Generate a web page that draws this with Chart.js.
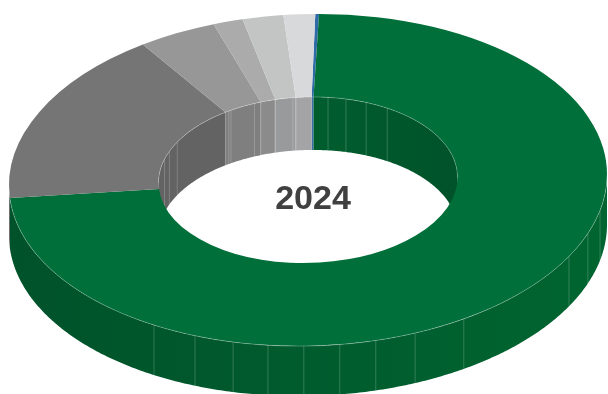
<!DOCTYPE html>
<html>
<head>
<meta charset="utf-8">
<title>2024</title>
<style>
    html, body { margin: 0; padding: 0; background: #fff; }
    #frame { width: 608px; height: 394px; overflow: hidden; }
    #frame canvas { display: block; }
</style>
<script src="https://cdn.jsdelivr.net/npm/chart.js@4"></script>
</head>
<body>
<div id="frame"><canvas id="myDonutChart" width="608" height="608"></canvas></div>
<script>
// Share of each slice, clockwise from the blue sliver at the top
var categories = ['Category 1', 'Category 2', 'Category 3', 'Category 4', 'Category 5', 'Category 6', 'Category 7'];
var shares = [0.2, 73.2, 16.9, 4.2, 1.6, 2.2, 1.7];
var yearLabel = '2024';

var topColors = ['#2f6ba8', '#006f39', '#747574', '#979797', '#ababab', '#c3c5c5', '#d7d9db'];

// Side wall colours, [left end, right end] of a horizontal gradient
var outerWallColors = [
    ['#24568a', '#24568a'], ['#00522a', '#006530'], ['#5e5f5e', '#5e5f5e'], ['#7a7a7a', '#7a7a7a'],
    ['#8a8a8a', '#8a8a8a'], ['#9a9b9b', '#9a9b9b'], ['#a5a5a7', '#a5a5a7']
];
var innerWallColors = [
    ['#3a70aa', '#3a70aa'], ['#006a32', '#00522a'], ['#626362', '#626362'], ['#7f7f7f', '#7f7f7f'],
    ['#8b8b8b', '#8b8b8b'], ['#999a9b', '#999a9b'], ['#a4a4a6', '#a4a4a6']
];

// Thin panel seams on the walls, degrees clockwise from the top
var outerSeams = [211, 202.2, 194.5, 187.7, 180.8, 173.9, 166.9, 159, 148.6, 119.2, 110.6, 102.4];
var innerSeams = [7.7, 14.7, 22.9, 32, 286.3, 292, 299, 328, 329, 339, 341.6, 347.2, 354.2, 355.4];

// Tilt of the ring on the page
var squash = 0.5552;
var shear = -0.018;
var centerY = 180;
var outerDepth = 50;
var innerDepth = 53;

function project(arc, angle, radius, drop) {
    var dx = Math.cos(angle) * radius;
    var dy = Math.sin(angle) * radius;
    return { x: arc.x + dx, y: centerY + dy * squash + dx * shear + drop };
}

function wallPath(ctx, arc, radius, from, to, drop) {
    var steps = Math.max(2, Math.ceil((to - from) / 0.01));
    var i, p;
    ctx.beginPath();
    for (i = 0; i <= steps; i++) {
        p = project(arc, from + (to - from) * i / steps, radius, 0);
        if (i === 0) ctx.moveTo(p.x, p.y); else ctx.lineTo(p.x, p.y);
    }
    for (i = steps; i >= 0; i--) {
        p = project(arc, from + (to - from) * i / steps, radius, drop);
        ctx.lineTo(p.x, p.y);
    }
    ctx.closePath();
}

function rimPath(ctx, arc, radius, from, to) {
    var steps = 240;
    ctx.beginPath();
    for (var i = 0; i <= steps; i++) {
        var p = project(arc, from + (to - from) * i / steps, radius, 0);
        if (i === 0) ctx.moveTo(p.x, p.y); else ctx.lineTo(p.x, p.y);
    }
}

function drawWall(ctx, arc, colors, radius, viewFrom, viewTo, drop) {
    // Only the part of the slice that faces the viewer is painted
    var offset = Math.floor((arc.startAngle - viewFrom) / (2 * Math.PI));
    for (var turn = offset - 1; turn <= offset + 1; turn++) {
        var from = Math.max(arc.startAngle, viewFrom + turn * 2 * Math.PI);
        var to = Math.min(arc.endAngle, viewTo + turn * 2 * Math.PI);
        if (to <= from) continue;
        var fill = ctx.createLinearGradient(arc.x - radius, 0, arc.x + radius, 0);
        fill.addColorStop(0, colors[0]);
        fill.addColorStop(1, colors[1]);
        ctx.fillStyle = fill;
        wallPath(ctx, arc, radius, from, to, drop);
        ctx.fill();
    }
}

function drawSeams(ctx, arc, radius, seams, drop) {
    ctx.strokeStyle = 'rgba(255, 255, 255, 0.2)';
    ctx.lineWidth = 1;
    seams.forEach(function (deg) {
        var angle = (deg - 90) * Math.PI / 180;
        var a = project(arc, angle, radius, 0);
        var b = project(arc, angle, radius, drop);
        ctx.beginPath();
        ctx.moveTo(a.x, a.y);
        ctx.lineTo(b.x, b.y);
        ctx.stroke();
    });
}

// Paints the side walls first, then lays the flat slices over them
var ringPlugin = {
    id: 'ring3d',
    beforeDatasetsDraw: function (chart) {
        var ctx = chart.ctx;
        var arcs = chart.getDatasetMeta(0).data;
        var first = arcs[0];

        ctx.save();
        arcs.forEach(function (arc, i) {
            drawWall(ctx, arc, innerWallColors[i], arc.innerRadius, Math.PI, 2 * Math.PI, innerDepth);
        });
        drawSeams(ctx, first, first.innerRadius, innerSeams, innerDepth);
        arcs.forEach(function (arc, i) {
            drawWall(ctx, arc, outerWallColors[i], arc.outerRadius, 0, Math.PI, outerDepth);
        });
        drawSeams(ctx, first, first.outerRadius, outerSeams, outerDepth);
        ctx.restore();

        ctx.save();
        ctx.transform(1, shear, 0, squash, 0, centerY - squash * first.y - shear * first.x);
    },
    afterDatasetsDraw: function (chart) {
        var ctx = chart.ctx;
        var first = chart.getDatasetMeta(0).data[0];
        ctx.restore();

        // Light hairline where the top face meets the walls
        ctx.save();
        ctx.strokeStyle = 'rgba(255, 255, 255, 0.32)';
        ctx.lineWidth = 0.8;
        rimPath(ctx, first, first.outerRadius, 0, Math.PI);
        ctx.stroke();
        rimPath(ctx, first, first.innerRadius, Math.PI, 2 * Math.PI);
        ctx.stroke();

        ctx.fillStyle = '#404040';
        ctx.font = 'bold 34px "Liberation Sans", Arial, sans-serif';
        ctx.textAlign = 'center';
        ctx.textBaseline = 'middle';
        ctx.fillText(yearLabel, 313, 200);
        ctx.restore();
    }
};

document.addEventListener('DOMContentLoaded', function () {
    var ctx = document.getElementById('myDonutChart').getContext('2d');

    new Chart(ctx, {
        type: 'doughnut',
        data: {
            labels: categories,
            datasets: [{
                data: shares,
                backgroundColor: topColors,
                borderWidth: 0
            }]
        },
        options: {
            responsive: false,
            animation: false,
            rotation: 1.4,
            cutout: '50%',
            layout: { padding: { left: 9, right: 1, top: 5, bottom: 5 } },
            plugins: {
                legend: { display: false },
                tooltip: { enabled: false }
            }
        },
        plugins: [ringPlugin]
    });
});
</script>
</body>
</html>
